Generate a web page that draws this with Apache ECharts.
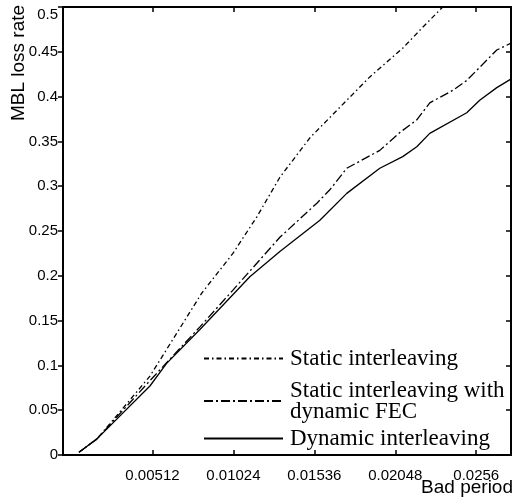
<!DOCTYPE html>
<html>
<head>
<meta charset="utf-8">
<script src="https://cdn.jsdelivr.net/npm/echarts@6/dist/echarts.min.js"></script>
<style>
  html, body { margin: 0; padding: 0; background: #fff; }
  #chart { width: 515px; height: 502px; }
</style>
</head>
<body>
<div id="chart"></div>
<script>
// x ticks (bad period)
const xTicks = [0.00512, 0.01024, 0.01536, 0.02048, 0.0256];

// Static interleaving
const staticX = [0.00047, 0.00161, 0.00243, 0.00496, 0.00825, 0.01021, 0.01173, 0.01318, 0.01508, 0.01697, 0.01887, 0.02095, 0.02203, 0.02348];
const staticY = [0.003, 0.018, 0.035, 0.088, 0.181, 0.225, 0.266, 0.310, 0.354, 0.388, 0.422, 0.454, 0.474, 0.500];

// Static interleaving with dynamic FEC
const fecX = [0.00047, 0.00161, 0.00496, 0.00812, 0.01021, 0.01318, 0.01552, 0.01634, 0.01741, 0.0195, 0.02077, 0.02184, 0.02266, 0.02412, 0.025, 0.0269, 0.02784];
const fecY = [0.003, 0.018, 0.083, 0.143, 0.184, 0.243, 0.281, 0.296, 0.320, 0.340, 0.360, 0.374, 0.393, 0.407, 0.418, 0.452, 0.460];

// Dynamic interleaving
const dynX = [0.00047, 0.00161, 0.00496, 0.00600, 0.00812, 0.01128, 0.01318, 0.01571, 0.01741, 0.0195, 0.02095, 0.02184, 0.02266, 0.025, 0.02582, 0.0269, 0.02784];
const dynY = [0.003, 0.018, 0.077, 0.102, 0.140, 0.199, 0.227, 0.262, 0.292, 0.320, 0.333, 0.344, 0.359, 0.382, 0.396, 0.410, 0.420];

const zip = (xs, ys) => xs.map((x, i) => [x, ys[i]]);

const chart = echarts.init(document.getElementById('chart'));

const xMin = -0.00054, xMax = 0.0278;
const axisLine = { show: true, onZero: false, lineStyle: { color: '#000', width: 2 } };
const sans = 'Liberation Sans, Arial, sans-serif';
const serif = 'Liberation Serif, Times New Roman, serif';

const legendBase = {
  orient: 'vertical',
  left: 198,
  itemWidth: 79,
  itemHeight: 10,
  selectedMode: false,
  itemStyle: { color: 'transparent', borderWidth: 0 },
  textStyle: { fontFamily: serif, fontSize: 23, lineHeight: 21, color: '#000', padding: [0, 0, 0, 2] }
};

chart.setOption({
  animation: false,
  grid: { left: 63, right: 4, top: 7, bottom: 47, containLabel: false, outerBoundsMode: 'none' },
  xAxis: [
    {
      type: 'value', position: 'bottom', min: xMin, max: xMax,
      axisLine,
      splitLine: { show: false },
      axisTick: { inside: true, length: 5, lineStyle: { color: '#000', width: 1.5 }, customValues: xTicks },
      axisLabel: { customValues: xTicks, margin: 13, fontFamily: sans, fontSize: 15, color: '#000',
        formatter: v => String(v) }
    },
    {
      type: 'value', position: 'top', min: xMin, max: xMax,
      axisLine,
      splitLine: { show: false },
      axisTick: { inside: true, length: 5, lineStyle: { color: '#000', width: 1.5 }, customValues: xTicks },
      axisLabel: { show: false }
    }
  ],
  yAxis: [
    {
      type: 'value', position: 'left', min: 0, max: 0.5, interval: 0.05,
      axisLine,
      splitLine: { show: false },
      axisTick: { inside: false, length: 5, lineStyle: { color: '#000', width: 1.5 } },
      axisLabel: { margin: 5, fontFamily: sans, fontSize: 15, color: '#000', verticalAlignMaxLabel: 'top',
        formatter: v => String(+v.toFixed(2)) }
    },
    {
      type: 'value', position: 'right', min: 0, max: 0.5, interval: 0.05,
      axisLine,
      splitLine: { show: false },
      axisTick: { inside: true, length: 5, lineStyle: { color: '#000', width: 1.5 } },
      axisLabel: { show: false }
    }
  ],
  legend: [
    Object.assign({}, legendBase, { top: 342, data: ['Static interleaving'] }),
    Object.assign({}, legendBase, { top: 374, data: ['Static interleaving with dynamic FEC'],
      formatter: n => n.replace(' dynamic', '\ndynamic') }),
    Object.assign({}, legendBase, { top: 422, data: ['Dynamic interleaving'] })
  ],
  graphic: [
    {
      type: 'text', x: 19, y: 63, rotation: Math.PI / 2,
      style: { text: 'MBL loss rate', fontFamily: sans, fontSize: 19, fill: '#000', align: 'center', verticalAlign: 'middle' }
    },
    {
      type: 'text', x: 513, y: 488,
      style: { text: 'Bad period', fontFamily: sans, fontSize: 19, fill: '#000', align: 'right', verticalAlign: 'middle' }
    }
  ],
  series: [
    {
      name: 'Static interleaving', type: 'line', data: zip(staticX, staticY),
      symbol: 'none', lineStyle: { color: '#000', width: 1.3, type: [5, 3, 1.5, 3] }, itemStyle: { color: '#000' }
    },
    {
      name: 'Static interleaving with dynamic FEC', type: 'line', data: zip(fecX, fecY),
      symbol: 'none', lineStyle: { color: '#000', width: 1.3, type: [9, 3, 2, 3] }, itemStyle: { color: '#000' }
    },
    {
      name: 'Dynamic interleaving', type: 'line', data: zip(dynX, dynY),
      symbol: 'none', lineStyle: { color: '#000', width: 1.3 }, itemStyle: { color: '#000' }
    }
  ]
});
</script>
</body>
</html>
